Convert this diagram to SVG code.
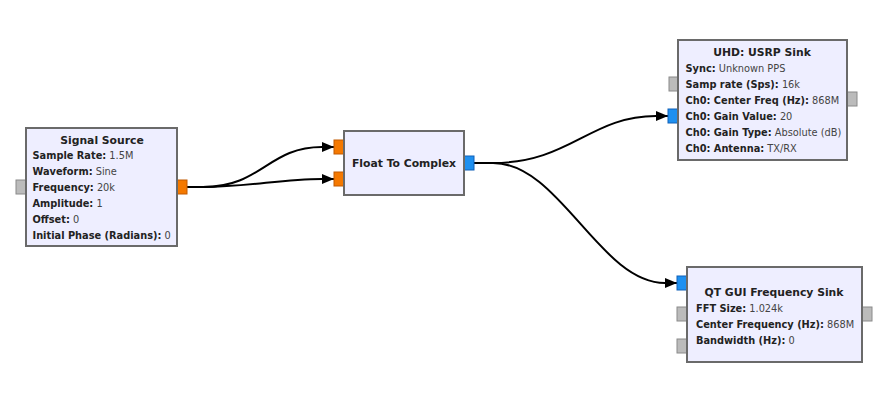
<svg xmlns="http://www.w3.org/2000/svg" width="892" height="406" viewBox="0 0 892 406">
<defs>
<marker id="arr" markerWidth="12" markerHeight="10" refX="12" refY="5" orient="auto" markerUnits="userSpaceOnUse">
<path d="M0,0 L12,5 L0,10 Z" fill="#000"/>
</marker>
</defs>
<style>
.blk{fill:#EEEEFF;stroke:#6A6A6A;stroke-width:2}
.po{fill:#F57900;stroke:#C25A00;stroke-width:1}
.pb{fill:#1E90F0;stroke:#1060B8;stroke-width:1}
.pg{fill:#BBBBBB;stroke:#8A8A8A;stroke-width:1}
text{font-family:"DejaVu Sans",sans-serif;font-size:9.8px;fill:#222}
.t{font-weight:bold;text-anchor:middle;font-size:10.8px}
.k{font-weight:bold}
.v{font-weight:normal;fill:#444}
.c{fill:none;stroke:#000;stroke-width:2}
</style>
<rect width="892" height="406" fill="#fff"/>
<g id="connectors">
<path class="c" d="M187,187 H203 C262,187 268,147 322,147 H334" marker-end="url(#arr)"/>
<path class="c" d="M187,187 H203 C250,187 280,179 322,179 H334" marker-end="url(#arr)"/>
<path class="c" d="M474,163 H493 C570,163 590,116 656,116 H668" marker-end="url(#arr)"/>
<path class="c" d="M474,163 H493 C560,163 600,283 665,283 H677" marker-end="url(#arr)"/>
</g>
<g id="signal_source">
<rect class="pg" x="16" y="180" width="10" height="14"/>
<rect class="po" x="177" y="180" width="10" height="14"/>
<rect class="blk" x="26" y="128" width="151" height="118"/>
<text class="t" x="102" y="144">Signal Source</text>
<text x="32.5" y="159"><tspan class="k">Sample Rate:</tspan><tspan class="v"> 1.5M</tspan></text>
<text x="32.5" y="175"><tspan class="k">Waveform:</tspan><tspan class="v"> Sine</tspan></text>
<text x="32.5" y="191"><tspan class="k">Frequency:</tspan><tspan class="v"> 20k</tspan></text>
<text x="32.5" y="207"><tspan class="k">Amplitude:</tspan><tspan class="v"> 1</tspan></text>
<text x="32.5" y="223"><tspan class="k">Offset:</tspan><tspan class="v"> 0</tspan></text>
<text x="32.5" y="239"><tspan class="k">Initial Phase (Radians):</tspan><tspan class="v"> 0</tspan></text>
</g>
<g id="float_to_complex">
<rect class="po" x="334" y="140" width="10" height="14"/>
<rect class="po" x="334" y="172" width="10" height="14"/>
<rect class="pb" x="464" y="156" width="10" height="14"/>
<rect class="blk" x="344" y="131" width="120" height="64"/>
<text class="t" x="404" y="167">Float To Complex</text>
</g>
<g id="usrp_sink">
<rect class="pg" x="669" y="77" width="10" height="14"/>
<rect class="pb" x="668" y="109" width="10" height="14"/>
<rect class="pg" x="847" y="92" width="10" height="14"/>
<rect class="blk" x="678" y="40" width="169" height="120"/>
<text class="t" x="762" y="56">UHD: USRP Sink</text>
<text x="685.5" y="72"><tspan class="k">Sync:</tspan><tspan class="v"> Unknown PPS</tspan></text>
<text x="685.5" y="88"><tspan class="k">Samp rate (Sps):</tspan><tspan class="v"> 16k</tspan></text>
<text x="685.5" y="104"><tspan class="k">Ch0: Center Freq (Hz):</tspan><tspan class="v"> 868M</tspan></text>
<text x="685.5" y="120"><tspan class="k">Ch0: Gain Value:</tspan><tspan class="v"> 20</tspan></text>
<text x="685.5" y="136"><tspan class="k">Ch0: Gain Type:</tspan><tspan class="v"> Absolute (dB)</tspan></text>
<text x="685.5" y="152"><tspan class="k">Ch0: Antenna:</tspan><tspan class="v"> TX/RX</tspan></text>
</g>
<g id="freq_sink">
<rect class="pb" x="677" y="276" width="10" height="14"/>
<rect class="pg" x="677" y="307" width="10" height="14"/>
<rect class="pg" x="677" y="339" width="10" height="14"/>
<rect class="pg" x="862" y="307" width="10" height="14"/>
<rect class="blk" x="687" y="267" width="175" height="95"/>
<text class="t" x="774" y="296">QT GUI Frequency Sink</text>
<text x="696" y="312"><tspan class="k">FFT Size:</tspan><tspan class="v"> 1.024k</tspan></text>
<text x="696" y="328"><tspan class="k">Center Frequency (Hz):</tspan><tspan class="v"> 868M</tspan></text>
<text x="696" y="344"><tspan class="k">Bandwidth (Hz):</tspan><tspan class="v"> 0</tspan></text>
</g>
</svg>
